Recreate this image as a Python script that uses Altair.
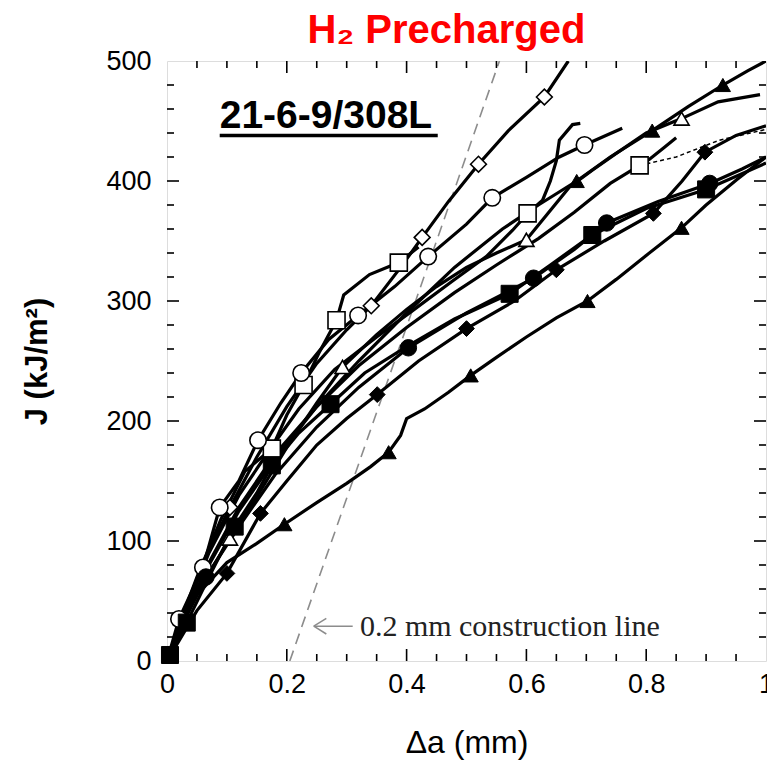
import altair as alt
import pandas as pd

# ---------------- data ----------------
# line traces: crack extension da (mm) vs J (kJ/m^2)
s1_x = [0, 0.025, 0.06, 0.105, 0.15, 0.2, 0.25, 0.3, 0.341, 0.39, 0.426, 0.47, 0.52, 0.57, 0.63, 0.67]
s1_y = [0, 35, 82, 128, 170, 212, 248, 276, 296, 328, 353, 383, 414, 442, 470, 500]
s2_x = [0, 0.02, 0.05, 0.09, 0.13, 0.175, 0.2, 0.228, 0.255, 0.283, 0.295, 0.338, 0.387, 0.42]
s2_y = [0, 30, 70, 118, 158, 177, 205, 230, 258, 284, 305, 322, 332, 345]
s3_x = [0, 0.02, 0.06, 0.088, 0.12, 0.152, 0.19, 0.224, 0.27, 0.319, 0.38, 0.436, 0.5, 0.543, 0.6, 0.655, 0.697, 0.76]
s3_y = [0, 35, 78, 128, 150, 184, 215, 240, 268, 288, 312, 337, 364, 386, 403, 420, 430, 444]
s4_x = [0, 0.03, 0.07, 0.12, 0.17, 0.22, 0.28, 0.35, 0.41, 0.475, 0.533, 0.577, 0.602, 0.627, 0.64, 0.65, 0.655, 0.677, 0.69]
s4_y = [0, 40, 90, 138, 175, 210, 243, 270, 292, 316, 337, 359, 373, 384, 400, 417, 434, 447, 448]
s5_x = [0, 0.03, 0.06, 0.105, 0.16, 0.2, 0.25, 0.293, 0.35, 0.4, 0.45, 0.5, 0.55, 0.6, 0.672, 0.71, 0.75, 0.8, 0.859, 0.92, 0.99]
s5_y = [0, 35, 65, 102, 145, 178, 215, 245, 272, 293, 312, 328, 340, 351, 395, 409, 423, 440, 452, 466, 472]
s6_x = [0, 0.03, 0.07, 0.12, 0.18, 0.25, 0.32, 0.4, 0.48, 0.56, 0.62, 0.684, 0.74, 0.81, 0.87, 0.928, 0.97, 1.0]
s6_y = [0, 38, 80, 125, 168, 212, 250, 290, 328, 360, 380, 400, 420, 442, 462, 480, 492, 500]
s7_x = [0, 0.02, 0.05, 0.1, 0.15, 0.196, 0.25, 0.3, 0.34, 0.37, 0.39, 0.4, 0.43, 0.47, 0.507, 0.55, 0.6, 0.65, 0.702, 0.75, 0.8, 0.859, 0.9, 0.951, 1.0]
s7_y = [0, 25, 55, 82, 98, 114, 132, 148, 162, 174, 188, 202, 210, 224, 238, 253, 270, 286, 300, 318, 338, 361, 380, 401, 420]
s8_x = [0, 0.03, 0.065, 0.12, 0.18, 0.25, 0.32, 0.403, 0.5, 0.612, 0.68, 0.734, 0.82, 0.906, 0.96, 1.0]
s8_y = [0, 38, 70, 112, 155, 195, 228, 261, 290, 319, 343, 365, 383, 398, 410, 420]
s9_x = [0, 0.033, 0.07, 0.113, 0.15, 0.175, 0.22, 0.273, 0.33, 0.4, 0.48, 0.572, 0.64, 0.71, 0.8, 0.9, 1.0]
s9_y = [0, 32, 70, 112, 140, 163, 190, 214, 240, 262, 285, 306, 330, 355, 377, 393, 415]
s10_x = [0, 0.05, 0.1, 0.156, 0.2, 0.25, 0.3, 0.351, 0.42, 0.5, 0.58, 0.65, 0.73, 0.812, 0.86, 0.898, 0.95, 1.0]
s10_y = [0, 42, 73, 123, 150, 180, 202, 222, 250, 277, 300, 326, 350, 373, 400, 424, 438, 446]
s11_x = [0, 0.03, 0.07, 0.12, 0.18, 0.25, 0.32, 0.4, 0.48, 0.55, 0.62, 0.68, 0.74, 0.789, 0.805, 0.83, 0.85]
s11_y = [0, 38, 82, 128, 172, 212, 246, 278, 307, 330, 352, 374, 398, 413, 418, 428, 436]
# sparse (dashed) continuation of series 11
s11d_x = [0.789, 0.85, 0.922, 1.0]
s11d_y = [413, 420, 434, 443]

# markers
m_odiamond_x = [0.105, 0.341, 0.426, 0.52, 0.63]
m_odiamond_y = [128, 296, 353, 414, 470]
m_osquare_x = [0.175, 0.228, 0.283, 0.387, 0.602, 0.789]
m_osquare_y = [177, 230, 284, 332, 373, 413]
m_ocircle_x = [0.02, 0.06, 0.088, 0.152, 0.224, 0.319, 0.436, 0.543, 0.697]
m_ocircle_y = [35, 78, 128, 184, 240, 288, 337, 386, 430]
m_otri_x = [0.105, 0.293, 0.6, 0.859]
m_otri_y = [102, 245, 351, 452]
m_ftri_x = [0.196, 0.37, 0.507, 0.702, 0.859, 0.684, 0.81, 0.928]
m_ftri_y = [114, 174, 238, 300, 361, 400, 442, 480]
m_fcircle_x = [0.065, 0.403, 0.612, 0.734, 0.906]
m_fcircle_y = [70, 261, 319, 365, 398]
m_fsquare_x = [0.005, 0.033, 0.113, 0.175, 0.273, 0.572, 0.71, 0.9]
m_fsquare_y = [5, 32, 112, 163, 214, 306, 355, 393]
m_fdiamond_x = [0.1, 0.156, 0.351, 0.5, 0.65, 0.812, 0.898]
m_fdiamond_y = [73, 123, 222, 277, 326, 373, 424]

# construction line
con_x = [0.205, 0.555]
con_y = [0, 500]

# axis ticks
x_labels = [0, 0.2, 0.4, 0.6, 0.8, 1.0]
x_minor = [0.05, 0.1, 0.15, 0.25, 0.3, 0.35, 0.45, 0.5, 0.55, 0.65, 0.7, 0.75, 0.85, 0.9, 0.95]
x_major = [0.2, 0.4, 0.6, 0.8]
y_labels = [0, 100, 200, 300, 400, 500]
y_minor = [20, 40, 60, 80, 120, 140, 160, 180, 220, 240, 260, 280, 320, 340, 360, 380, 420, 440, 460, 480]
y_major = [100, 200, 300, 400]

# ---------------- build tables ----------------
series = [("s1", s1_x, s1_y), ("s2", s2_x, s2_y), ("s3", s3_x, s3_y), ("s4", s4_x, s4_y),
          ("s5", s5_x, s5_y), ("s6", s6_x, s6_y), ("s7", s7_x, s7_y), ("s8", s8_x, s8_y),
          ("s9", s9_x, s9_y), ("s10", s10_x, s10_y), ("s11", s11_x, s11_y)]
rows = []
for name, xs, ys in series:
    for k, (a, b) in enumerate(zip(xs, ys)):
        rows.append({"series": name, "k": k, "da": a, "J": b})
lines_df = pd.DataFrame(rows)
dashed_df = pd.DataFrame({"da": s11d_x, "J": s11d_y, "k": list(range(len(s11d_x)))})

def mk(xs, ys, shape):
    return pd.DataFrame({"da": xs, "J": ys, "shape": [shape] * len(xs)})

open_df = pd.concat([mk(m_odiamond_x, m_odiamond_y, "diamond"), mk(m_osquare_x, m_osquare_y, "square"),
                     mk(m_ocircle_x, m_ocircle_y, "circle"), mk(m_otri_x, m_otri_y, "triangle-up")])
filled_df = pd.concat([mk(m_ftri_x, m_ftri_y, "triangle-up"), mk(m_fcircle_x, m_fcircle_y, "circle"),
                       mk(m_fsquare_x, m_fsquare_y, "square"), mk(m_fdiamond_x, m_fdiamond_y, "diamond")])
con_df = pd.DataFrame({"da": con_x, "J": con_y})

W, H = 599, 600
FONT = "Liberation Sans"

xscale = alt.Scale(domain=[0, 1], nice=False, zero=False)
yscale = alt.Scale(domain=[0, 500], nice=False, zero=False)
xaxis = alt.Axis(values=x_labels, format="~g", title="Δa (mm)", domain=False, ticks=False, grid=False,
                 labelFontSize=27, labelFont=FONT, labelColor="black", labelPadding=10, labelFlush=False,
                 titleFontSize=32, titleFont=FONT, titleFontWeight="normal", titleColor="black", titlePadding=30)
yaxis = alt.Axis(values=y_labels, format="d", title="J (kJ/m²)", domain=False, ticks=False, grid=False,
                 labelFontSize=27, labelFont=FONT, labelColor="black", labelPadding=16, labelFlush=False,
                 titleFontSize=31, titleFont=FONT, titleFontWeight="bold", titleColor="black", titlePadding=52)

def X(f="da"):
    return alt.X(f"{f}:Q", scale=xscale, axis=xaxis)

def Y(f="J"):
    return alt.Y(f"{f}:Q", scale=yscale, axis=yaxis)

lines = alt.Chart(lines_df).mark_line(color="black", strokeWidth=3.2, clip=True).encode(
    x=X(), y=Y(), detail="series:N", order="k:Q")
dashed = alt.Chart(dashed_df).mark_line(color="black", strokeWidth=1.5, strokeDash=[4, 3], clip=True).encode(
    x=X(), y=Y(), order="k:Q")
con = alt.Chart(con_df).mark_line(color="#8c8c8c", strokeWidth=1.6, strokeDash=[11, 7], clip=True).encode(
    x=X(), y=Y())

shape_scale = alt.Scale(domain=["square", "circle", "diamond", "triangle-up"],
                        range=["square", "circle", "diamond", "triangle-up"])
size_open = alt.Scale(domain=["square", "circle", "diamond", "triangle-up"], range=[290, 230, 170, 230])
size_fill = alt.Scale(domain=["square", "circle", "diamond", "triangle-up"], range=[400, 400, 330, 330])

open_pts = alt.Chart(open_df).mark_point(filled=True, fill="white", stroke="black", strokeWidth=1.6, opacity=1).encode(
    x=X(), y=Y(), shape=alt.Shape("shape:N", scale=shape_scale, legend=None),
    size=alt.Size("shape:N", scale=size_open, legend=None))
filled_pts = alt.Chart(filled_df).mark_point(filled=True, fill="black", stroke="black", strokeWidth=1, opacity=1).encode(
    x=X(), y=Y(), shape=alt.Shape("shape:N", scale=shape_scale, legend=None),
    size=alt.Size("shape:N", scale=size_fill, legend=None))

# inward ticks on all four sides
def yticks(vals, length):
    d = pd.DataFrame({"J": vals})
    left = alt.Chart(d).mark_rule(color="black", strokeWidth=1.6).encode(y=Y(), x=alt.value(0), x2=alt.value(length))
    right = alt.Chart(d).mark_rule(color="black", strokeWidth=1.6).encode(y=Y(), x=alt.value(W), x2=alt.value(W - length))
    return [left, right]

def xticks(vals, length):
    d = pd.DataFrame({"da": vals})
    bottom = alt.Chart(d).mark_rule(color="black", strokeWidth=1.6).encode(x=X(), y=alt.value(H), y2=alt.value(H - length))
    top = alt.Chart(d).mark_rule(color="black", strokeWidth=1.6).encode(x=X(), y=alt.value(0), y2=alt.value(length))
    return [bottom, top]

ticks = yticks(y_minor, 7) + yticks(y_major, 12) + xticks(x_minor, 7) + xticks(x_major, 12)

# annotations
label_df = pd.DataFrame({"da": [0.088], "J": [444], "t": ["21-6-9/308L"]})
label = alt.Chart(label_df).mark_text(align="left", baseline="alphabetic", font=FONT, fontSize=39,
                                      fontWeight="bold", color="black").encode(x=X(), y=Y(), text="t:N")
uline_df = pd.DataFrame({"da": [0.088], "da2": [0.452], "J": [438]})
uline = alt.Chart(uline_df).mark_rule(color="black", strokeWidth=3.5).encode(x=X(), x2="da2:Q", y=Y())

con_lbl_df = pd.DataFrame({"da": [0.322], "J": [28], "t": ["0.2 mm construction line"]})
con_lbl = alt.Chart(con_lbl_df).mark_text(align="left", baseline="middle", font="Liberation Serif", fontSize=30,
                                          color="#222222").encode(x=X(), y=Y(), text="t:N")
arrow_df = pd.DataFrame({"da": [0.245, 0.245, 0.245], "da2": [0.31, 0.266, 0.266], "J": [29, 29, 29], "J2": [29, 35.5, 22.5]})
arrow = alt.Chart(arrow_df).mark_rule(color="#8c8c8c", strokeWidth=1.5).encode(x=X(), x2="da2:Q", y=Y(), y2="J2:Q")

chart = alt.layer(con, *ticks, lines, dashed, open_pts, filled_pts, label, uline, con_lbl, arrow).properties(
    width=W, height=H,
    padding={"left": 167, "top": 61, "right": 1, "bottom": 104},
    autosize=alt.AutoSizeParams(type="none"),
    title=alt.TitleParams(text="H₂ Precharged", font=FONT, fontSize=40, fontWeight="bold", color="#ff0000",
                          anchor="middle", dx=-20, offset=-4),
).configure_view(stroke="black", strokeWidth=2).configure(background="white")

chart.save("out.html", embed_options={"renderer": "svg", "actions": False})
